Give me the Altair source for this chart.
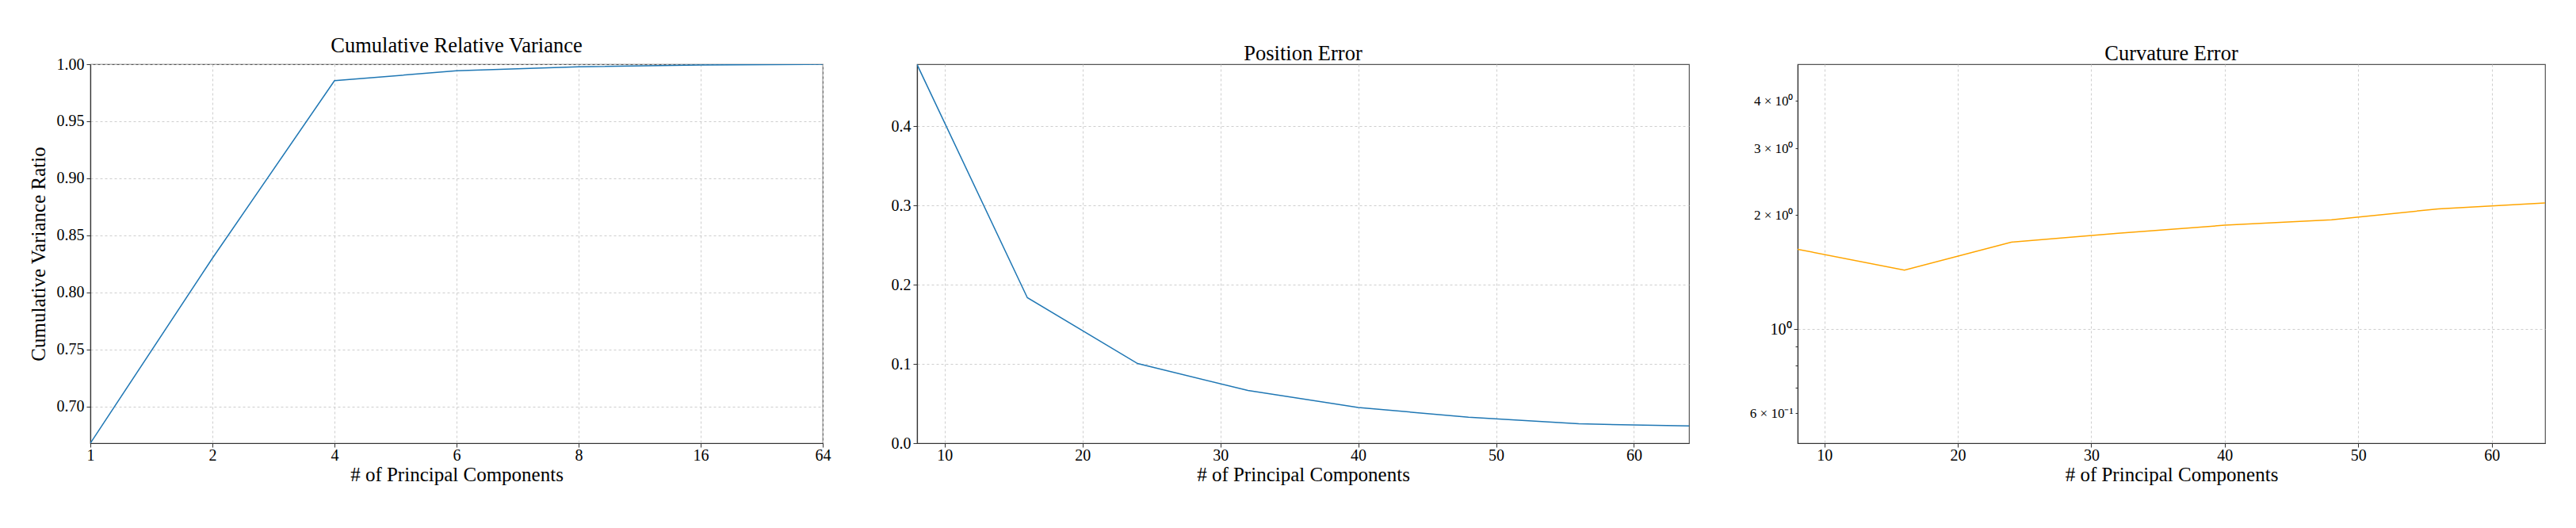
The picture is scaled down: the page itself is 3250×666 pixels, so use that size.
import altair as alt
import pandas as pd

# ---- data ----
pc_cum = ["1", "2", "4", "6", "8", "16", "64"]
cum_var = [0.668, 0.830, 0.9856, 0.9942, 0.9977, 0.9993, 1.0]

pc_err = [8, 16, 24, 32, 40, 48, 56, 64]
pos_err = [0.478, 0.1837, 0.1005, 0.0665, 0.0451, 0.0327, 0.0244, 0.0217]
curv_err = [1.624, 1.431, 1.696, 1.79, 1.88, 1.943, 2.076, 2.151]

titles = ["Cumulative Relative Variance", "Position Error", "Curvature Error"]
x_title = "# of Principal Components"
y1_title = "Cumulative Variance Ratio"

FONT = "Liberation Serif"
BLUE = "#1f77b4"
ORANGE = "#ffa500"
H = 478

df1 = pd.DataFrame({"pc": pc_cum, "v": cum_var})
df2 = pd.DataFrame({"pc": pc_err, "v": pos_err})
df3 = pd.DataFrame({"pc": pc_err, "v": curv_err})

ttl = lambda t: alt.TitleParams(t, font=FONT, fontSize=26.5, fontWeight="normal",
                                 color="black", offset=0)

xaxis = lambda **kw: alt.Axis(title=x_title, labelPadding=0, titlePadding=2, **kw)

p1 = alt.Chart(df1).mark_line(color=BLUE, strokeWidth=1.5, clip=True).encode(
    x=alt.X("pc:O", sort=pc_cum, scale=alt.Scale(type="point", padding=0),
            axis=xaxis(labelAngle=0)),
    y=alt.Y("v:Q", scale=alt.Scale(domain=[0.668, 1.0], nice=False, zero=False),
            axis=alt.Axis(title=y1_title, values=[0.70, 0.75, 0.80, 0.85, 0.90, 0.95, 1.00],
                          format=".2f")),
).properties(width=924, height=H, title=ttl(titles[0]))

p2 = alt.Chart(df2).mark_line(color=BLUE, strokeWidth=1.5, clip=True).encode(
    x=alt.X("pc:Q", scale=alt.Scale(domain=[8, 64], nice=False, zero=False),
            axis=xaxis(values=[10, 20, 30, 40, 50, 60])),
    y=alt.Y("v:Q", scale=alt.Scale(domain=[0, 0.4784], nice=False),
            axis=alt.Axis(title=None, values=[0, 0.1, 0.2, 0.3, 0.4], format=".1f")),
).properties(width=974, height=H, title=ttl(titles[1]))

is_major = "datum.value == 1"
p3 = alt.Chart(df3).mark_line(color=ORANGE, strokeWidth=1.5, clip=True).encode(
    x=alt.X("pc:Q", scale=alt.Scale(domain=[8, 64], nice=False, zero=False),
            axis=xaxis(values=[10, 20, 30, 40, 50, 60])),
    y=alt.Y("v:Q", scale=alt.Scale(type="log", domain=[0.5, 5.0], nice=False),
            axis=alt.Axis(
                title=None,
                values=[0.6, 0.7, 0.8, 0.9, 1, 2, 3, 4],
                labelExpr="datum.value == 1 ? '10⁰' : datum.value == 0.6 ? '6 × 10⁻¹' : "
                          "datum.value >= 2 ? format(datum.value, 'd') + ' × 10⁰' : ''",
                tickSize={"condition": {"test": is_major, "value": 5}, "value": 3},
                labelFontSize={"condition": {"test": is_major, "value": 20}, "value": 17},
                gridOpacity={"condition": {"test": is_major, "value": 1}, "value": 0},
            )),
).properties(width=943, height=H, title=ttl(titles[2]))

chart = alt.hconcat(p1, p2, p3, spacing=74).properties(
    padding={"left": 27, "top": 35, "right": 5, "bottom": 5}
).configure_view(
    stroke="#555", strokeWidth=1.2
).configure_axis(
    labelFont=FONT, titleFont=FONT, labelFontSize=20, titleFontSize=25,
    labelColor="black", titleColor="black", titleFontWeight="normal",
    domainColor="#333", domainWidth=1.2, tickColor="#333", tickSize=5,
    labelPadding=3, titlePadding=6,
    grid=True, gridColor="#c8c8c8", gridDash=[3, 3], gridWidth=0.9,
).configure_axisY(titlePadding=10)

chart.save("out.html", embed_options={"renderer": "svg", "actions": False})
